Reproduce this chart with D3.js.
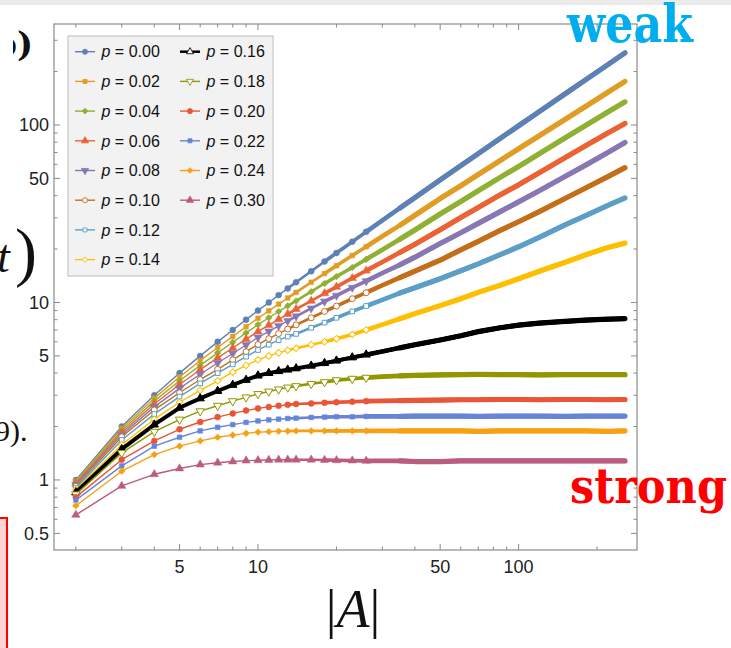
<!DOCTYPE html>
<html><head><meta charset="utf-8">
<script src="https://cdn.jsdelivr.net/npm/d3@7"></script>
<style>body{margin:0;background:#fff;} svg{display:block;}</style>
</head><body>
<svg id="chart" width="731" height="648"></svg>
<script>
// ---------- DATA ----------
const sizesA = [2,3,4,5,6,7,8,9,10,11,12,13,14,16,18,20,23,26,30,35,40,50,60,70,85,100,120,150,180,220,256];
const pLabels = ["0.00","0.02","0.04","0.06","0.08","0.10","0.12","0.14","0.16","0.18","0.20","0.22","0.24","0.30"];
const p000 = [1,2,3,4,5,6,7,8,9,10,11,12,13,15,17,19,22,25,29,34,39,49,59,69,84,99,119,149,179,219,255];
const p002 = [0.985,1.95,2.89,3.8,4.7,5.58,6.44,7.3,8.15,8.97,9.79,10.6,11.4,13.0,14.55,16.1,18.4,20.6,23.6,27.2,31.0,38.5,45.5,52.6,63.1,73.5,86.9,107,126.7,152.9,176];
const p004 = [0.97,1.9,2.78,3.62,4.42,5.2,5.97,6.74,7.5,8.2,8.89,9.56,10.2,11.5,12.8,14.0,15.75,17.5,19.8,22.7,25.6,31.5,37.1,42.6,50.7,58.4,68.8,84.2,99,118.3,135];
const p006 = [0.955,1.85,2.68,3.45,4.18,4.87,5.54,6.21,6.85,7.45,8.03,8.6,9.17,10.2,11.25,12.25,13.7,15.1,16.9,19.1,21.3,25.7,30.1,34.3,40.4,46.0,53.8,65.1,76.1,90.2,102];
const p008 = [0.94,1.8,2.58,3.28,3.94,4.56,5.16,5.76,6.35,6.88,7.39,7.88,8.36,9.27,10.13,10.94,12.12,13.2,14.65,16.3,18.0,21.5,24.7,27.9,32.5,36.9,42.6,51.1,59.2,69.9,79.6];
const p010 = [0.92,1.75,2.48,3.1,3.68,4.2,4.75,5.28,5.8,6.25,6.68,7.08,7.48,8.2,8.9,9.54,10.5,11.35,12.5,13.8,15.0,17.3,19.8,22.1,25.5,28.5,32.5,38.4,44.0,51.2,57.5];
const p012 = [0.90,1.68,2.35,2.95,3.5,4.0,4.48,4.95,5.4,5.78,6.13,6.42,6.65,7.2,7.7,8.2,8.9,9.55,10.35,11.3,12.1,13.6,15.1,16.5,18.6,20.6,23.3,27.3,30.8,35.2,38.8];
const p014 = [0.88,1.58,2.2,2.74,3.2,3.62,4.05,4.42,4.75,5.0,5.2,5.38,5.52,5.78,6.0,6.25,6.6,7.0,7.5,8.1,8.65,9.6,10.5,11.4,12.5,13.6,15.0,16.8,18.5,20.4,21.6];
const p016 = [0.85,1.49,2.05,2.55,2.88,3.17,3.43,3.66,3.87,4.0,4.1,4.18,4.25,4.4,4.55,4.7,4.9,5.08,5.3,5.55,5.78,6.15,6.5,6.85,7.2,7.45,7.65,7.82,7.95,8.05,8.1];
const p018 = [0.83,1.42,1.87,2.19,2.44,2.62,2.78,2.92,3.05,3.15,3.24,3.32,3.38,3.48,3.56,3.65,3.72,3.77,3.82,3.86,3.88,3.91,3.92,3.93,3.92,3.92,3.91,3.92,3.92,3.92,3.92];
const p020 = [0.80,1.30,1.66,1.93,2.12,2.26,2.37,2.46,2.53,2.58,2.62,2.65,2.68,2.7,2.72,2.74,2.76,2.78,2.79,2.8,2.81,2.82,2.83,2.83,2.84,2.84,2.83,2.84,2.84,2.83,2.84];
const p022 = [0.77,1.20,1.55,1.74,1.89,1.98,2.05,2.11,2.15,2.18,2.2,2.22,2.23,2.25,2.26,2.27,2.27,2.28,2.28,2.28,2.29,2.29,2.29,2.28,2.29,2.29,2.29,2.28,2.29,2.29,2.29];
const p024 = [0.715,1.12,1.39,1.55,1.66,1.74,1.79,1.83,1.86,1.87,1.88,1.885,1.89,1.89,1.89,1.89,1.89,1.89,1.89,1.89,1.89,1.89,1.89,1.88,1.89,1.89,1.89,1.89,1.89,1.88,1.89];
const p030 = [0.635,0.925,1.076,1.16,1.22,1.25,1.27,1.285,1.29,1.295,1.3,1.3,1.3,1.3,1.295,1.29,1.285,1.28,1.28,1.28,1.27,1.27,1.28,1.28,1.28,1.28,1.28,1.28,1.28,1.28,1.28];
const seriesValues = [p000,p002,p004,p006,p008,p010,p012,p014,p016,p018,p020,p022,p024,p030];

const xMajorTicks = [5,10,50,100];
const xMinorTicks = [2,3,4,6,7,8,9,20,30,40,60,70,80,90,200];
const yMajorTicks = [0.5,1,5,10,50,100];
const yMinorTicks = [0.6,0.7,0.8,0.9,2,3,4,6,7,8,9,20,30,40,60,70,80,90,200,300];

// ---------- STYLES ----------
const colors = ["#5E81B5","#E19C24","#8FB032","#EB6235","#8778B3","#C56E1A","#5D9EC7","#FFBF00",
                "#000000","#929600","#E95536","#6685D9","#F89F13","#BC5B80"];
const shapes = ["circle","square","diamond","triangle","down","circle","square","diamond","triangle","down",
                "circle","square","diamond","triangle"];
const openMk = [false,false,false,false,false,true,true,true,true,true,false,false,false,false];

const svg = d3.select("#chart");
const L = 54, R = 637, T = 24, B = 550;
const x = d3.scaleLog().domain([1.649, 284.6]).range([L, R]);
const y = d3.scaleLog().domain([0.403, 370.7]).range([B, T]);

// background artifacts
svg.append("rect").attr("x",0).attr("y",0).attr("width",731).attr("height",5).attr("fill","#ebebeb");

// frame
svg.append("rect").attr("x",L).attr("y",T).attr("width",R-L).attr("height",B-T)
  .attr("fill","#fff").attr("stroke","#8a8a8a").attr("stroke-width",1.2);

const tickG = svg.append("g").attr("stroke","#8a8a8a").attr("stroke-width",1);
function xt(v, len){
  tickG.append("line").attr("x1",x(v)).attr("x2",x(v)).attr("y1",B).attr("y2",B-len);
  tickG.append("line").attr("x1",x(v)).attr("x2",x(v)).attr("y1",T).attr("y2",T+len);
}
function yt(v, len){
  tickG.append("line").attr("y1",y(v)).attr("y2",y(v)).attr("x1",L).attr("x2",L+len);
  tickG.append("line").attr("y1",y(v)).attr("y2",y(v)).attr("x1",R).attr("x2",R-len);
}
xMajorTicks.forEach(v=>xt(v,6)); xMinorTicks.forEach(v=>xt(v,3.5));
yMajorTicks.forEach(v=>yt(v,6)); yMinorTicks.forEach(v=>yt(v,3.5));

const fmt = v => String(v);
svg.append("g").selectAll("text").data(xMajorTicks).join("text")
  .attr("x",d=>x(d)).attr("y",573).attr("text-anchor","middle")
  .attr("font-family","Liberation Sans, Arial, sans-serif").attr("font-size",18).attr("fill","#222")
  .text(fmt);
svg.append("g").selectAll("text").data(yMajorTicks).join("text")
  .attr("x",49).attr("y",d=>y(d)).attr("dy","0.36em").attr("text-anchor","end")
  .attr("font-family","Liberation Sans, Arial, sans-serif").attr("font-size",18).attr("fill","#222")
  .text(fmt);

// symbols
function symPath(shape){
  if(shape==="circle") return d3.symbol().type(d3.symbolCircle).size(28)();
  if(shape==="square") return d3.symbol().type(d3.symbolSquare).size(22)();
  if(shape==="diamond") return d3.symbol().type(d3.symbolSquare).size(22)();
  return d3.symbol().type(d3.symbolTriangle).size(30)();
}
function symRot(shape){ return shape==="diamond"?45:(shape==="down"?180:0); }

// data
svg.append("clipPath").attr("id","clip").append("rect").attr("x",L).attr("y",T).attr("width",R-L).attr("height",B-T);
const plot = svg.append("g").attr("clip-path","url(#clip)");
const line = d3.line().x(d=>x(d[0])).y(d=>y(d[1]));

seriesValues.forEach((vals,i)=>{
  const pts = sizesA.map((a,k)=>[a, vals[k]]);
  const g = plot.append("g");
  const isBlack = i===8;
  g.append("path").attr("d",line(pts)).attr("fill","none").attr("stroke",colors[i])
    .attr("stroke-width", isBlack?4:1.4).attr("stroke-linejoin","round");
  // dense markers merge into a band: widen progressively
  [[13,2.6,"butt"],[18,3.6,"butt"],[24,4.6,"butt"],[34,5.2,"round"]].forEach(([a0,w,cap])=>{
    const seg = pts.filter(p=>p[0]>=a0);
    g.append("path").attr("d",line(seg)).attr("fill","none").attr("stroke",colors[i])
      .attr("stroke-width",w).attr("stroke-linecap",cap).attr("stroke-linejoin","round");
  });
  const mk = pts.filter(p=>p[0]<=26);
  g.selectAll("path.m").data(mk).join("path").attr("class","m")
    .attr("d",symPath(shapes[i]))
    .attr("transform",d=>`translate(${x(d[0])},${y(d[1])}) rotate(${symRot(shapes[i])})`)
    .attr("fill",(openMk[i]&&!isBlack)?"#fff":colors[i]).attr("stroke",colors[i])
    .attr("stroke-width",openMk[i]?1:0.5);
});

// legend
const lg = svg.append("g");
lg.append("rect").attr("x",68).attr("y",36).attr("width",205).attr("height",240)
  .attr("fill","#f2f2f2").attr("stroke","#bdbdbd").attr("stroke-width",1);
pLabels.forEach((lab,i)=>{
  const col = i<8?0:1, row = i<8?i:i-8;
  const lx = col===0?75:180, ly = 51.7 + row*29.7;
  lg.append("line").attr("x1",lx).attr("x2",lx+20).attr("y1",ly).attr("y2",ly)
    .attr("stroke",colors[i]).attr("stroke-width",i===8?2.5:1.4);
  lg.append("path").attr("d",symPath(shapes[i]))
    .attr("transform",`translate(${lx+10},${ly}) rotate(${symRot(shapes[i])}) scale(0.85)`)
    .attr("fill",openMk[i]?"#f2f2f2":colors[i]).attr("stroke",colors[i]).attr("stroke-width",1);
  const t = lg.append("text").attr("x",lx+26.5).attr("y",ly).attr("dy","0.36em")
    .attr("font-family","Liberation Sans, Arial, sans-serif").attr("font-size",16).attr("fill","#111");
  t.append("tspan").attr("font-style","italic").text("p");
  t.append("tspan").text(" = " + lab);
});

// axis label |A|
const al = svg.append("text").attr("x",353).attr("y",627).attr("text-anchor","middle")
  .attr("font-family","Liberation Serif, DejaVu Serif, serif").attr("font-size",54).attr("fill","#111");
al.append("tspan").text("|");
al.append("tspan").attr("font-style","italic").text("A");
al.append("tspan").text("|");

// annotations
svg.append("text").attr("x",567).attr("y",42).attr("textLength",126).attr("lengthAdjust","spacingAndGlyphs")
  .attr("font-family","DejaVu Serif, serif").attr("font-weight","bold").attr("font-size",52)
  .attr("fill","#00AEEF").text("weak");
svg.append("text").attr("x",570).attr("y",503).attr("textLength",157).attr("lengthAdjust","spacingAndGlyphs")
  .attr("font-family","DejaVu Serif, serif").attr("font-weight","bold").attr("font-size",48)
  .attr("fill","#FF0000").text("strong");

// cropped fragments on the left edge
svg.append("text").attr("x",33).attr("y",56).attr("text-anchor","end")
  .attr("font-family","DejaVu Serif, serif").attr("font-weight","bold").attr("font-size",34).attr("fill","#111").text("b)");
svg.append("rect").attr("x",0).attr("y",22).attr("width",13).attr("height",42).attr("fill","#fff");
svg.append("text").attr("x",-3).attr("y",272)
  .attr("font-family","Liberation Serif, serif").attr("font-style","italic").attr("font-size",46).attr("fill","#111").text("t");
svg.append("text").attr("x",15).attr("y",274)
  .attr("font-family","Liberation Serif, serif").attr("font-size",66).attr("fill","#111").text(")");
svg.append("text").attr("x",-5).attr("y",441)
  .attr("font-family","Liberation Serif, serif").attr("font-size",30).attr("fill","#111").text("9).");
svg.append("rect").attr("x",-3).attr("y",518).attr("width",10).attr("height",140)
  .attr("fill","#ffd3d3").attr("stroke","#ff0000").attr("stroke-width",2);
</script>
</body></html>
